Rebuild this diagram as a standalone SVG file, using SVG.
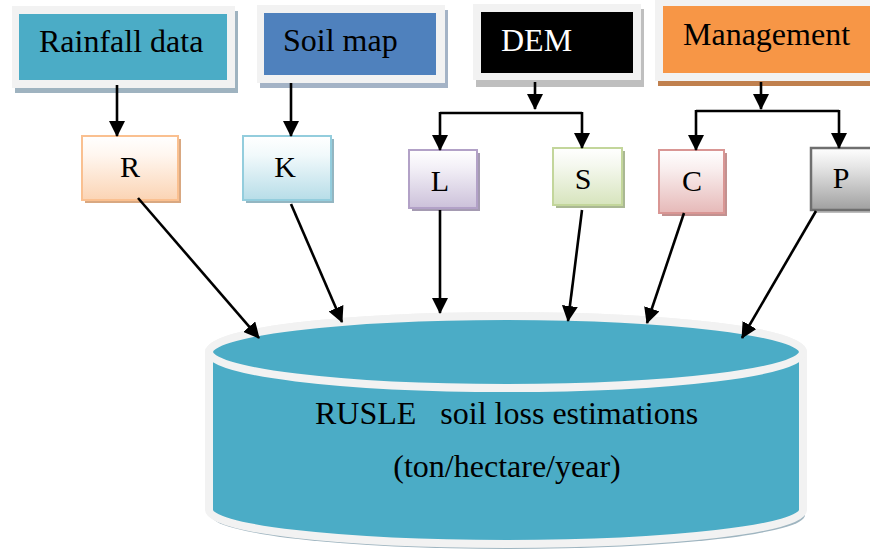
<svg xmlns="http://www.w3.org/2000/svg" width="870" height="558" viewBox="0 0 870 558">
<style>
  .t { font-family: "Liberation Serif", "Times New Roman", serif; font-size: 32px; fill: #000; }
  .l { font-family: "Liberation Serif", "Times New Roman", serif; font-size: 30px; fill: #000; text-anchor: middle; }
  .frame { fill: #f2f2f2; }
  .conn { stroke: #000; stroke-width: 2.6; fill: none; }
  .arr { stroke: #000; stroke-width: 2.6; fill: none; marker-end: url(#ah); }
</style>
<defs>
  <marker id="ah" markerUnits="userSpaceOnUse" markerWidth="16" markerHeight="16" viewBox="0 0 16 16" refX="15" refY="8" orient="auto">
    <path d="M0,0 L16,8 L0,16 Z" fill="#000"/>
  </marker>
  <linearGradient id="gR" x1="0" y1="0" x2="0" y2="1"><stop offset="0" stop-color="#ffffff"/><stop offset="0.3" stop-color="#fff6ef"/><stop offset="1" stop-color="#fbd4b4"/></linearGradient>
  <linearGradient id="gK" x1="0" y1="0" x2="0" y2="1"><stop offset="0" stop-color="#ffffff"/><stop offset="0.3" stop-color="#f1f9fb"/><stop offset="1" stop-color="#b7dde8"/></linearGradient>
  <linearGradient id="gL" x1="0" y1="0" x2="0" y2="1"><stop offset="0" stop-color="#ffffff"/><stop offset="0.3" stop-color="#f3f0f7"/><stop offset="1" stop-color="#ccc1da"/></linearGradient>
  <linearGradient id="gS" x1="0" y1="0" x2="0" y2="1"><stop offset="0" stop-color="#ffffff"/><stop offset="0.3" stop-color="#f5f8ef"/><stop offset="1" stop-color="#d7e4bd"/></linearGradient>
  <linearGradient id="gC" x1="0" y1="0" x2="0" y2="1"><stop offset="0" stop-color="#ffffff"/><stop offset="0.3" stop-color="#f9eeee"/><stop offset="1" stop-color="#e6b9b8"/></linearGradient>
  <linearGradient id="gP" x1="0" y1="0" x2="0" y2="1"><stop offset="0" stop-color="#ffffff"/><stop offset="0.3" stop-color="#e6e6e6"/><stop offset="1" stop-color="#a0a0a0"/></linearGradient>
</defs>
<rect width="870" height="558" fill="#ffffff"/>

<!-- top source boxes -->
<g id="rainfall">
  <rect x="15" y="11" width="223" height="82" fill="#9fb3c0"/>
  <rect class="frame" x="12" y="6" width="223" height="82"/>
  <rect x="19" y="14" width="208" height="66" fill="#4bacc6"/>
  <text class="t" x="39" y="52">Rainfall data</text>
</g>
<g id="soilmap">
  <rect x="260" y="10" width="188" height="78" fill="#a4b3c6"/>
  <rect class="frame" x="257" y="5" width="188" height="78"/>
  <rect x="264" y="13" width="172" height="62" fill="#4f81bd"/>
  <text class="t" x="283" y="51">Soil map</text>
</g>
<g id="dem">
  <rect x="476" y="9" width="168" height="78" fill="#bfbfbf"/>
  <rect class="frame" x="473" y="4" width="168" height="76"/>
  <rect x="481" y="12" width="152" height="61" fill="#000000"/>
  <text class="t" x="501" y="51" fill="#ffffff" style="fill:#ffffff">DEM</text>
</g>
<g id="management">
  <rect x="658" y="5" width="220" height="81" fill="#c0804e"/>
  <rect class="frame" x="655" y="-2" width="223" height="83"/>
  <rect x="663" y="6" width="215" height="67" fill="#f79646"/>
  <text class="t" x="683" y="45">Management</text>
</g>

<!-- factor boxes -->
<g id="R">
  <rect x="85" y="139" width="96" height="64" fill="#d9a881"/>
  <rect x="82" y="136" width="96" height="64" fill="url(#gR)" stroke="#fac090" stroke-width="2"/>
  <text class="l" x="130" y="177">R</text>
</g>
<g id="K">
  <rect x="246" y="139" width="88" height="64" fill="#93b6c2"/>
  <rect x="243" y="136" width="88" height="64" fill="url(#gK)" stroke="#93cddd" stroke-width="2"/>
  <text class="l" x="285" y="177">K</text>
</g>
<g id="L">
  <rect x="412" y="153" width="68" height="58" fill="#a59bb2"/>
  <rect x="409" y="150" width="68" height="58" fill="url(#gL)" stroke="#b2a1c7" stroke-width="2"/>
  <text class="l" x="440" y="191">L</text>
</g>
<g id="S">
  <rect x="556" y="151" width="69" height="57" fill="#aab893"/>
  <rect x="553" y="148" width="69" height="57" fill="url(#gS)" stroke="#c3d69b" stroke-width="2"/>
  <text class="l" x="583" y="189">S</text>
</g>
<g id="C">
  <rect x="662" y="153" width="65" height="63" fill="#c29190"/>
  <rect x="659" y="150" width="65" height="63" fill="url(#gC)" stroke="#d99694" stroke-width="2"/>
  <text class="l" x="692" y="191">C</text>
</g>
<g id="P">
  <rect x="814" y="151" width="70" height="62" fill="#bdbdbd"/>
  <rect x="811" y="148" width="70" height="62" fill="url(#gP)" stroke="#6f6f6f" stroke-width="2.5"/>
  <text class="l" x="841" y="188">P</text>
</g>

<!-- cylinder -->
<g id="rusle">
  <path d="M211,357 V515 A297,34 0 0 0 805,515 V357 Z" fill="#9fb5c0"/>
  <path d="M209,352 V510 A297,34 0 0 0 803,510 V352 A297,36 0 0 0 209,352 Z" fill="#4bacc6" stroke="#f2f2f2" stroke-width="8"/>
  <ellipse cx="506" cy="352" rx="297" ry="36" fill="#4bacc6" stroke="#f2f2f2" stroke-width="8"/>
  <text class="t" x="315" y="424" xml:space="preserve">RUSLE   soil loss estimations</text>
  <text class="t" x="507" y="477" text-anchor="middle">(ton/hectare/year)</text>
</g>

<!-- connectors -->
<g id="connectors">
  <line class="arr" x1="117" y1="85" x2="117" y2="136"/>
  <line class="arr" x1="291" y1="83" x2="291" y2="136"/>
  <line class="arr" x1="535" y1="82" x2="535" y2="109"/>
  <path class="conn" d="M440,113 H582"/>
  <line class="arr" x1="440" y1="112" x2="440" y2="150"/>
  <line class="arr" x1="582" y1="112" x2="582" y2="148"/>
  <line class="arr" x1="761" y1="82" x2="761" y2="109"/>
  <path class="conn" d="M696,111 H839"/>
  <line class="arr" x1="696" y1="110" x2="696" y2="150"/>
  <line class="arr" x1="839" y1="110" x2="839" y2="148"/>
  <line class="arr" x1="138" y1="198" x2="259" y2="338"/>
  <line class="arr" x1="291" y1="204" x2="342" y2="322"/>
  <line class="arr" x1="440" y1="210" x2="440" y2="313"/>
  <line class="arr" x1="582" y1="210" x2="568" y2="321"/>
  <line class="arr" x1="684" y1="213" x2="647" y2="323"/>
  <line class="arr" x1="816" y1="211" x2="742" y2="338"/>
</g>
</svg>
